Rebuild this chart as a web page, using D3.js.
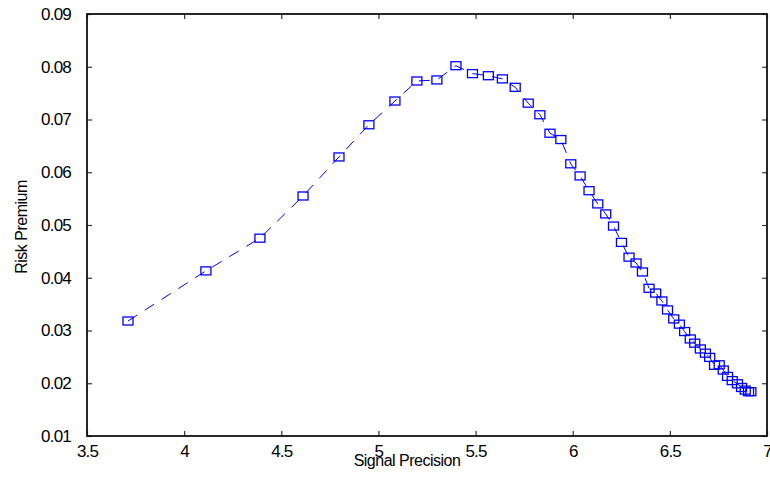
<!DOCTYPE html>
<html lang="en">
<head>
  <meta charset="UTF-8">
  <title>Risk Premium vs Signal Precision</title>
  <style>
    body { margin: 0; background: #fff; }
    svg { font-family: Arial, "Liberation Sans", sans-serif; }
    .tick text { font-size: 17px; letter-spacing: -0.8px; fill: #000; }
    .frame { fill: none; stroke: #111; stroke-width: 1.8px; }
    .line { fill: none; stroke: #0000ff; stroke-width: 1px; stroke-dasharray: 11,9; }
    .dot { fill: none; stroke: #0000ff; stroke-width: 1.3px; }
    .label { font-size: 16px; letter-spacing: -0.5px; fill: #000; }
  </style>
</head>
<body>
  <script src="https://cdn.jsdelivr.net/npm/d3@7"></script>
  <script>
    const width = 770, height = 487;
    const mLeft = 87, mRight = 767, mTop = 14, mBottom = 436;

    // signal precision (x)
    const precision = [3.711, 4.112, 4.390, 4.612, 4.797, 4.951, 5.085, 5.198, 5.301, 5.399,
      5.484, 5.566, 5.638, 5.704, 5.771, 5.831, 5.883, 5.939, 5.990, 6.038,
      6.084, 6.129, 6.170, 6.210, 6.251, 6.290, 6.326, 6.359, 6.393, 6.427,
      6.459, 6.488, 6.520, 6.549, 6.576, 6.605, 6.628, 6.657, 6.683, 6.705,
      6.730, 6.754, 6.775, 6.797, 6.821, 6.848, 6.869, 6.888, 6.905, 6.917];
    // risk premium (y)
    const premium = [0.0318, 0.0413, 0.0475, 0.0555, 0.0629, 0.0690, 0.0735, 0.0773, 0.0775, 0.0802,
      0.0787, 0.0783, 0.0777, 0.0761, 0.0731, 0.0709, 0.0674, 0.0662, 0.0616, 0.0593,
      0.0565, 0.0540, 0.0521, 0.0498, 0.0467, 0.0439, 0.0428, 0.0411, 0.0380, 0.0371,
      0.0356, 0.0339, 0.0322, 0.0312, 0.0298, 0.0284, 0.0276, 0.0265, 0.0257, 0.0249,
      0.0234, 0.0235, 0.0225, 0.0213, 0.0205, 0.0199, 0.0192, 0.0187, 0.0184, 0.0184];

    const xTicks = [3.5, 4, 4.5, 5, 5.5, 6, 6.5, 7];
    const yTicks = [0.01, 0.02, 0.03, 0.04, 0.05, 0.06, 0.07, 0.08, 0.09];

    const data = precision.map((p, i) => ({ x: p, y: premium[i] }));

    const x = d3.scaleLinear().domain([3.5, 7]).range([mLeft, mRight]);
    const y = d3.scaleLinear().domain([0.01, 0.09]).range([mBottom, mTop]);

    const svg = d3.select('body').append('svg')
      .attr('width', width).attr('height', height);

    // axes with inward ticks
    function styleAxis(g) {
      g.select('.domain').remove();
      g.selectAll('.tick line').attr('stroke', '#333').attr('stroke-width', 1.2);
    }
    svg.append('g')
      .attr('transform', `translate(0,${mBottom})`)
      .call(d3.axisBottom(x).tickValues(xTicks).tickSize(-5).tickPadding(9).tickFormat(d3.format('')))
      .call(styleAxis);
    svg.append('g')
      .attr('transform', `translate(0,${mTop})`)
      .call(d3.axisTop(x).tickValues(xTicks).tickSize(-5).tickFormat(''))
      .call(styleAxis);
    svg.append('g')
      .attr('transform', `translate(${mLeft},0)`)
      .call(d3.axisLeft(y).tickValues(yTicks).tickSize(-5).tickPadding(16).tickFormat(d3.format('')))
      .call(styleAxis);
    svg.append('g')
      .attr('transform', `translate(${mRight},0)`)
      .call(d3.axisRight(y).tickValues(yTicks).tickSize(-5).tickFormat(''))
      .call(styleAxis);

    svg.append('rect').attr('class', 'frame')
      .attr('x', mLeft).attr('y', mTop)
      .attr('width', mRight - mLeft).attr('height', mBottom - mTop);

    const line = d3.line().x(d => x(d.x)).y(d => y(d.y));
    svg.append('path').datum(data).attr('class', 'line').attr('d', line);

    svg.selectAll('rect.dot').data(data).enter().append('rect')
      .attr('class', 'dot')
      .attr('x', d => x(d.x) - 5)
      .attr('y', d => y(d.y) - 4)
      .attr('width', 10).attr('height', 8);

    svg.append('text').attr('class', 'label')
      .attr('x', 407).attr('y', 466)
      .attr('text-anchor', 'middle')
      .text('Signal Precision');
    svg.append('text').attr('class', 'label')
      .attr('transform', 'translate(27,227) rotate(-90)')
      .attr('text-anchor', 'middle')
      .text('Risk Premium');
  </script>
</body>
</html>
